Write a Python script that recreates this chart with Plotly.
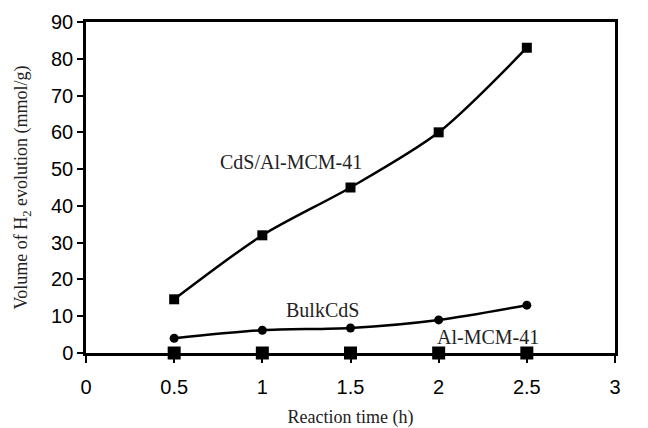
import plotly.graph_objects as go

time_h = [0.5, 1, 1.5, 2, 2.5]
cds_almcm = [14.6, 32, 45, 60, 83]
bulk_cds = [4, 6.2, 6.8, 9, 13]
al_mcm = [0, 0, 0, 0, 0]

fig = go.Figure()
fig.add_trace(go.Scatter(x=time_h, y=cds_almcm, mode="lines+markers",
                         line=dict(color="black", width=2.5, shape="spline", smoothing=0.8),
                         marker=dict(symbol="square", size=10, color="black"),
                         cliponaxis=False, showlegend=False))
fig.add_trace(go.Scatter(x=time_h, y=bulk_cds, mode="lines+markers",
                         line=dict(color="black", width=2.5, shape="spline", smoothing=0.8),
                         marker=dict(symbol="circle", size=9, color="black"),
                         cliponaxis=False, showlegend=False))
fig.add_trace(go.Scatter(x=time_h, y=al_mcm, mode="markers",
                         marker=dict(symbol="square", size=13, color="black"),
                         cliponaxis=False, showlegend=False))

ann_font = dict(family="Liberation Serif, Times New Roman, serif", size=20, color="#222")
fig.add_annotation(x=1.16, y=51.8, text="CdS/Al-MCM-41", showarrow=False, font=ann_font)
fig.add_annotation(x=1.34, y=11.7, text="BulkCdS", showarrow=False, font=ann_font)
fig.add_annotation(x=2.28, y=4.4, text="Al-MCM-41", showarrow=False, font=ann_font)

tick_font = dict(family="Liberation Sans, Arial, sans-serif", size=20, color="black")
title_font = dict(family="Liberation Serif, Times New Roman, serif", size=18, color="#222")

# The page body has an 8px default margin, so the figure is sized to fit.
fig.update_layout(
    width=640, height=420,
    margin=dict(l=78, r=33, t=14, b=75),
    paper_bgcolor="white", plot_bgcolor="white",
    xaxis=dict(range=[0, 3], tickvals=[0, 0.5, 1, 1.5, 2, 2.5, 3],
               ticktext=["0", "0.5", "1", "1.5", "2", "2.5", "3"],
               showgrid=False, zeroline=False, showline=True, linewidth=2.5,
               linecolor="black", mirror=True, ticks="outside", ticklen=7,
               tickwidth=1.5, tickcolor="black", tickfont=tick_font,
               ticklabelstandoff=7, automargin=False,
               title=dict(text="Reaction time (h)", font=title_font, standoff=23)),
    yaxis=dict(range=[0, 90], dtick=10, showgrid=False, zeroline=False,
               showline=True, linewidth=2.5, linecolor="black", mirror=True,
               ticks="outside", ticklen=6, tickwidth=1.5, tickcolor="black",
               tickfont=tick_font, automargin=False,
               title=dict(text="Volume of H<sub>2</sub> evolution (mmol/g)",
                          font=title_font, standoff=19)),
)

fig.write_html("out.html")
